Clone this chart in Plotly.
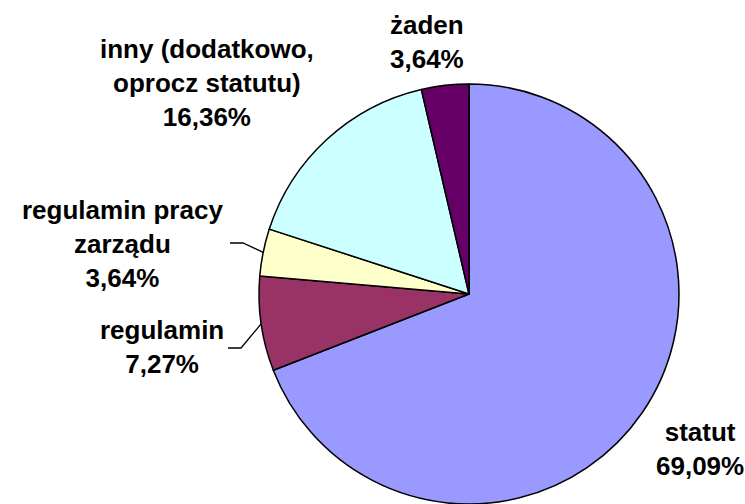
import math
import plotly.graph_objects as go

# ---- data ----
labels = ["statut", "regulamin", "regulamin pracy zarządu",
          "inny (dodatkowo, oprocz statutu)", "żaden"]
label_lines = ["statut", "regulamin", "regulamin pracy<br>zarządu",
               "inny (dodatkowo,<br>oprocz statutu)", "żaden"]
values = [69.09, 7.27, 3.64, 16.36, 3.64]
colors = ["#9999FF", "#993366", "#FFFFCC", "#CCFFFF", "#660066"]

W, H = 745, 504
CX, R = 469, 210          # pie centre x (px) and radius (px)
dom_x = [(CX - R) / W, (CX + R) / W]
dom_y = [0, 2 * R / H]
CY = H - R                # centre y in px from top

fig = go.Figure(go.Pie(
    labels=labels, values=values, sort=False, direction="clockwise",
    rotation=0, textinfo="none", hoverinfo="label+percent",
    marker=dict(colors=colors, line=dict(color="#000000", width=1.5)),
    domain=dict(x=dom_x, y=dom_y), showlegend=False,
))

def pct(v):
    return f"{v:.2f}".replace(".", ",") + "%"

# label centre positions in pixels
label_pos = [(700, 449), (162, 347), (122, 244), (207, 83), (427, 42)]
font = dict(family="Liberation Sans, Arial, sans-serif", size=26, color="#000000")
for i, (px, py) in enumerate(label_pos):
    fig.add_annotation(
        x=px / W, y=1 - py / H, xref="paper", yref="paper",
        text=f"<b>{label_lines[i]}<br>{pct(values[i])}</b>",
        showarrow=False, font=font, align="center",
        xanchor="center", yanchor="middle",
    )

# leader lines for small slices (from text to slice mid-angle on edge)
total = sum(values)
leaders = {1: (228, 348, 241), 2: (230, 243, 243)}
cum = 0
mids = []
for v in values:
    mids.append((cum + v / 2) / total * 2 * math.pi)
    cum += v
for i, (x0, y0, x1) in leaders.items():
    a = mids[i]
    ex = CX + R * math.sin(a)
    ey = CY - R * math.cos(a)
    path = f"M {x0/W},{1-y0/H} L {x1/W},{1-y0/H} L {ex/W},{1-ey/H}"
    fig.add_shape(type="path", path=path, xref="paper", yref="paper",
                  line=dict(color="#000000", width=1.3))

fig.update_layout(
    width=W, height=H, margin=dict(l=0, r=0, t=0, b=0),
    paper_bgcolor="#FFFFFF", plot_bgcolor="#FFFFFF",
)
fig.write_html("out.html", config={"displayModeBar": False},
               post_script="document.body.style.margin='0';"
                           "document.body.style.overflow='hidden';")
